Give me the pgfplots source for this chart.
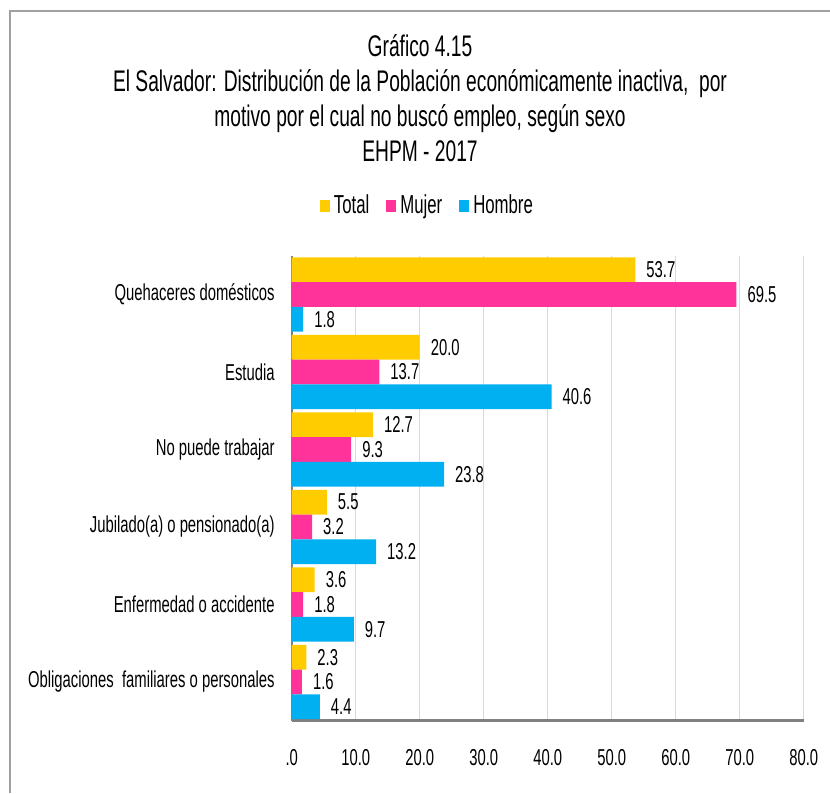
\documentclass[border=0pt]{standalone}
\usepackage{fontspec}
\setmainfont{Liberation Sans}[FakeStretch=0.645]
\usepackage{pgfplots}
\pgfplotsset{compat=1.18}

\definecolor{totalC}{RGB}{255,204,0}
\definecolor{mujerC}{RGB}{255,51,153}
\definecolor{hombreC}{RGB}{0,176,240}
\definecolor{frameC}{RGB}{160,160,160}
\definecolor{axisC}{RGB}{128,128,128}
\definecolor{gridC}{RGB}{217,217,217}

\begin{document}
\begin{tikzpicture}[x=1pt,y=1pt]
\useasboundingbox (0,0) rectangle (415,-396.5);
% chart frame (only top and left edges are visible)
\draw[frameC, line width=1pt] (4.75,-396.5) -- (4.75,-5.5) -- (415,-5.5);

\node[align=center, font=\fontsize{14.9}{17.5}\selectfont] at (210,-49)
  {Gráfico 4.15\\
   El Salvador: Distribución de la Población económicamente inactiva,\ \ por\\
   motivo por el cual no buscó empleo, según sexo\\
   EHPM - 2017};

\begin{axis}[
    at={(145.85pt,-360.35pt)}, anchor=south west,
    scale only axis, width=256pt, height=232.5pt,
    xbar, bar width=12.4pt,
    xmin=0, xmax=80, ymin=-0.5, ymax=5.5,
    axis lines*=left,
    x axis line style={axisC, line width=1.5pt},
    y axis line style={axisC, line width=1pt},
    xmajorgrids, grid style={gridC, line width=0.6pt},
    xtick={0,10,...,80},
    xticklabels={.0,10.0,20.0,30.0,40.0,50.0,60.0,70.0,80.0},
    ytick={0,...,5},
    yticklabels={Obligaciones\ \ familiares o personales, Enfermedad o accidente,
      Jubilado(a) o pensionado(a), No puede trabajar\ , Estudia, Quehaceres domésticos},
    major tick length=0pt,
    tick style={draw=none},
    ticklabel style={font=\fontsize{11.5}{13}\selectfont},
    x tick label style={yshift=-11pt},
    y tick label style={xshift=-5pt},
    /pgf/number format/assume math mode=true,
    nodes near coords={\pgfmathprintnumber[fixed, fixed zerofill, precision=1]{\pgfplotspointmeta}},
    every node near coord/.append style={font=\fontsize{11.5}{13}\selectfont, text=black, xshift=2pt},
    legend style={at={(0.267,1.1075)}, anchor=center, draw=none, fill=none,
      legend columns=3, font=\fontsize{13}{14}\selectfont,
      /tikz/every even column/.append style={column sep=6.5pt}},
    legend image code/.code={\fill[#1] (0pt,-2.9pt) rectangle (5pt,2.9pt);},
]
\addplot[fill=totalC, draw=none, bar shift=12.4pt]
  coordinates {(53.7,5) (20.0,4) (12.7,3) (5.5,2) (3.6,1) (2.3,0)};
\addlegendentry{Total}
\addplot[fill=mujerC, draw=none, bar shift=0pt]
  coordinates {(69.5,5) (13.7,4) (9.3,3) (3.2,2) (1.8,1) (1.6,0)};
\addlegendentry{Mujer}
\addplot[fill=hombreC, draw=none, bar shift=-12.4pt]
  coordinates {(1.8,5) (40.6,4) (23.8,3) (13.2,2) (9.7,1) (4.4,0)};
\addlegendentry{Hombre}
\end{axis}
\end{tikzpicture}
\end{document}
